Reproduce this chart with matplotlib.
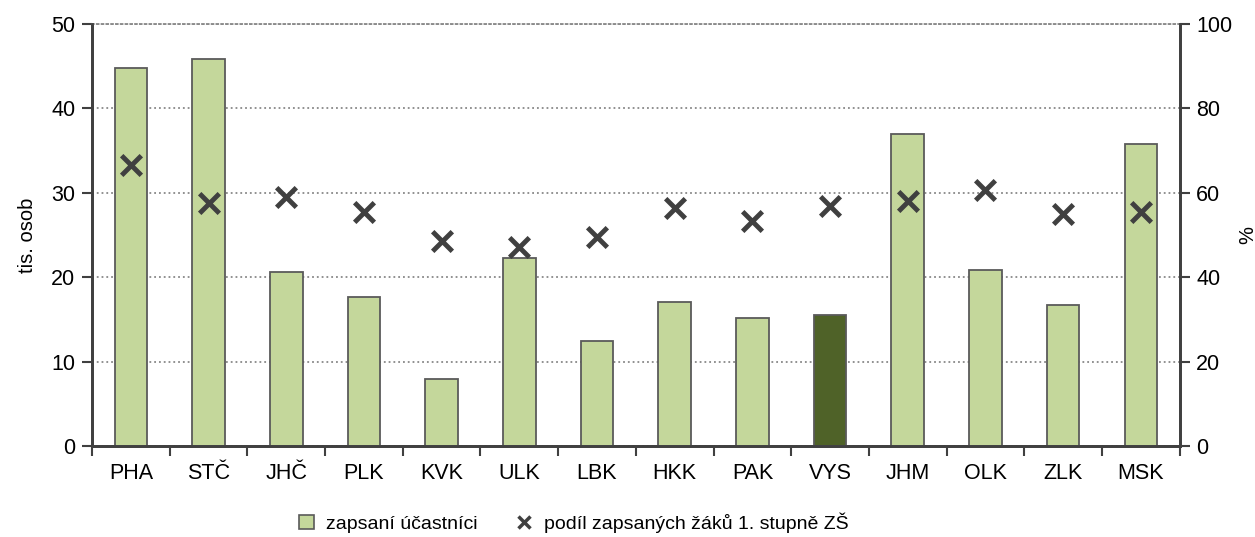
import numpy as np
import matplotlib
matplotlib.use('Agg')
import matplotlib.pyplot as plt
from matplotlib.lines import Line2D
from matplotlib.patches import Patch

plt.rcParams['font.family'] = ['Liberation Sans', 'DejaVu Sans']

# Data
regions = ['PHA', 'STČ', 'JHČ', 'PLK', 'KVK', 'ULK', 'LBK', 'HKK', 'PAK', 'VYS', 'JHM', 'OLK', 'ZLK', 'MSK']
ucastnici = [44.8, 45.8, 20.6, 17.6, 7.9, 22.3, 12.4, 17.1, 15.2, 15.5, 37.0, 20.9, 16.7, 35.8]
podil = [66.6, 57.5, 58.9, 55.5, 48.6, 47.1, 49.6, 56.5, 53.3, 56.9, 58.0, 60.6, 55.0, 55.5]
highlight = 'VYS'

light = '#c4d79b'
dark = '#4f6228'
axcol = '#404040'

fig = plt.figure(figsize=(12.55, 5.37), dpi=100)
ax = fig.add_axes([0.0733, 0.1695, 0.8667, 0.7858])
ax2 = ax.twinx()

x = np.arange(len(regions))
colors = [dark if r == highlight else light for r in regions]
ax.bar(x, ucastnici, width=0.42, color=colors, edgecolor='#5a5a5a', linewidth=1.3, zorder=3)

ax2.scatter(x, podil, marker='x', s=200, linewidths=3.5, color=axcol, zorder=4)

ax.set_xlim(-0.5, len(regions) - 0.5)
ax.set_ylim(0, 50)
ax2.set_ylim(0, 100)
ax.set_yticks(np.arange(0, 51, 10))
ax2.set_yticks(np.arange(0, 101, 20))

ax.set_xticks(x)
ax.set_xticklabels(regions)
ax.set_xticks(np.arange(-0.5, len(regions), 1), minor=True)
ax.tick_params(axis='x', which='major', length=0, pad=12, labelsize=15.5)
ax.tick_params(axis='x', which='minor', length=7, width=1.5, color=axcol)
ax.tick_params(axis='y', length=7, width=1.5, color=axcol, labelsize=15.5, pad=5)
ax2.tick_params(axis='y', length=7, width=1.5, color=axcol, labelsize=15.5, pad=5)

ax.grid(axis='y', linestyle=':', color='#888888', linewidth=1.3, zorder=0)
ax.set_axisbelow(True)

for a in (ax, ax2):
    a.spines['top'].set_visible(False)
    for s in ('left', 'right', 'bottom'):
        a.spines[s].set_color(axcol)
        a.spines[s].set_linewidth(2)
ax.spines['top'].set_visible(True)
ax.spines['top'].set_color('#888888')
ax.spines['top'].set_linewidth(1.3)
ax.spines['top'].set_linestyle(':')

ax.set_ylabel('tis. osob', fontsize=14.5, labelpad=10)
ax2.set_ylabel('%', fontsize=14.5, rotation=90, labelpad=4)

handles = [Patch(facecolor=light, edgecolor='#5a5a5a', linewidth=1.2),
           Line2D([], [], marker='x', linestyle='none', color=axcol, markersize=8, markeredgewidth=2.5)]
fig.legend(handles, ['zapsaní účastníci', 'podíl zapsaných žáků 1. stupně ZŠ'],
           loc='center left', bbox_to_anchor=(0.238, 0.027), ncol=2, frameon=False,
           fontsize=14, handlelength=0.8, handleheight=0.8, columnspacing=2.0,
           handletextpad=0.6, borderpad=0, borderaxespad=0)

fig.savefig('out.png', dpi=100)
